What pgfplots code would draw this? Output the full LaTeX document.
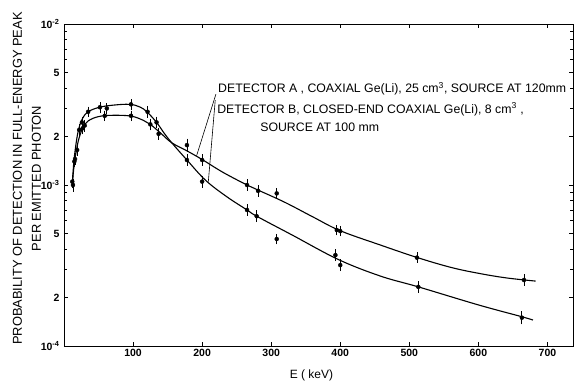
\documentclass[border=0pt]{standalone}
\usepackage{pgfplots}
\pgfplotsset{compat=1.18}
\usepackage{fontspec}
\setmainfont{Liberation Sans}
\begin{document}
\begin{tikzpicture}
\begin{axis}[
  scale only axis, width=509pt, height=322pt,
  xmin=0, xmax=737, ymode=log, ymin=1e-4, ymax=1e-2,
  axis line style={line width=0.9pt},
  tick style={line width=0.8pt, black},
  xtick={100,200,300,400,500,600,700},
  xticklabels={\textbf{100},\textbf{200},\textbf{300},\textbf{400},\textbf{500},\textbf{600},\textbf{700}},
  ytick={1e-4,2e-4,5e-4,1e-3,2e-3,5e-3,1e-2},
  yticklabels={\textbf{10}\textsuperscript{\textbf{-4}},\textbf{2},\textbf{5},\textbf{10}\textsuperscript{\textbf{-3}},\textbf{2},\textbf{5},\textbf{10}\textsuperscript{\textbf{-2}}},
  minor ytick={3e-4,4e-4,6e-4,7e-4,8e-4,9e-4,3e-3,4e-3,6e-3,7e-3,8e-3,9e-3},
  ticklabel style={font=\fontsize{10.5}{12}\selectfont},
  yticklabel style={xshift=-1pt},
  clip=false,
]
\coordinate (O) at (rel axis cs:0,0);
\coordinate (T) at (rel axis cs:1,1);
% curve A (25 cm3, source at 120 mm)
\addplot[black, line width=1.1pt, smooth, tension=0.6] coordinates {
 (12,1.0e-3) (14,1.25e-3) (17,1.55e-3) (21,1.9e-3) (27,2.25e-3) (35,2.5e-3)
 (50,2.66e-3) (70,2.71e-3) (97,2.68e-3) (115,2.52e-3) (125,2.38e-3) (140,2.1e-3)
 (156,1.83e-3) (178,1.63e-3) (200,1.44e-3) (230,1.2e-3) (265,1.0e-3) (281,9.3e-4)
 (320,7.8e-4) (360,6.35e-4) (400,5.2e-4) (458,4.24e-4) (511,3.55e-4) (560,3.08e-4)
 (600,2.83e-4) (640,2.65e-4) (683,2.53e-4)};
% curve B (8 cm3, source at 100 mm)
\addplot[black, line width=1.1pt, smooth, tension=0.6] coordinates {
 (12,1.0e-3) (14,1.35e-3) (17,1.75e-3) (21,2.2e-3) (27,2.6e-3) (35,2.85e-3)
 (50,3.03e-3) (70,3.13e-3) (95,3.17e-3) (110,3.05e-3) (120,2.85e-3) (134,2.45e-3)
 (145,2.1e-3) (156,1.83e-3) (178,1.43e-3) (205,1.07e-3) (235,8.5e-4) (265,7.0e-4)
 (279,6.4e-4) (330,4.9e-4) (397,3.45e-4) (458,2.72e-4) (513,2.33e-4) (600,1.8e-4)
 (663,1.52e-4) (679,1.45e-4)};
% measured points A
\addplot[black, only marks, mark=none, error bars/.cd, y dir=both, y explicit relative,
  error mark=-, error bar style={line width=0.8pt, black},
  error mark options={mark size=2.4pt, line width=0.8pt, black}]
 table[x=x, y=y, y error=e] {
 x y e
 13 1.0e-3 0.06
 15 1.4e-3 0.05
 19 1.65e-3 0.05
 27 2.25e-3 0.05
 30 2.34e-3 0.05
 59 2.69e-3 0.04
 97 2.69e-3 0.04
 125 2.38e-3 0.05
 137 2.08e-3 0.05
 178 1.77e-3 0.06
 200 1.43e-3 0.05
 265 1.0e-3 0.05
 281 9.2e-4 0.05
 308 8.87e-4 0.04
 395 5.25e-4 0.04
 400 5.17e-4 0.04
 511 3.54e-4 0.04
 666 2.57e-4 0.05
 };
% measured points B
\addplot[black, only marks, mark=none, error bars/.cd, y dir=both, y explicit relative,
  error mark=-, error bar style={line width=0.8pt, black},
  error mark options={mark size=2.4pt, line width=0.8pt, black}]
 table[x=x, y=y, y error=e] {
 x y e
 12 1.05e-3 0.06
 16 1.45e-3 0.05
 22 2.2e-3 0.05
 26 2.45e-3 0.05
 35 2.85e-3 0.04
 52 3.04e-3 0.04
 62 2.99e-3 0.04
 97 3.17e-3 0.04
 121 2.85e-3 0.05
 134 2.45e-3 0.05
 178 1.43e-3 0.05
 200 1.05e-3 0.05
 265 7.0e-4 0.05
 279 6.4e-4 0.05
 308 4.62e-4 0.04
 393 3.67e-4 0.05
 400 3.18e-4 0.05
 513 2.33e-4 0.05
 663 1.5e-4 0.06
 };
% annotation
\draw[line width=0.6pt] (axis cs:220,3.67e-3) -- (axis cs:192,1.52e-3);
\draw[line width=0.6pt] (axis cs:219,3.37e-3) -- (axis cs:209,1.05e-3);
\node[anchor=base west, inner sep=0pt, font=\fontsize{12.3}{14}\selectfont] at (axis cs:223,3.73e-3)
  {DETECTOR A , COAXIAL Ge(Li), 25 cm\textsuperscript{3}, SOURCE AT 120mm};
\node[anchor=base west, inner sep=0pt, font=\fontsize{12.3}{14}\selectfont] at (axis cs:221.7,2.80e-3)
  {DETECTOR B, CLOSED-END COAXIAL Ge(Li), 8 cm\textsuperscript{3} ,};
\node[anchor=base west, inner sep=0pt, font=\fontsize{12.3}{14}\selectfont] at (axis cs:284,2.165e-3)
  {SOURCE AT 100 mm};
\node[rotate=90, font=\fontsize{12.9}{19}\selectfont, align=center] at ([xshift=-37pt]rel axis cs:0,0.52)
  {PROBABILITY OF DETECTION IN FULL-ENERGY PEAK\\PER EMITTED PHOTON};
\node[font=\fontsize{12}{14}\selectfont] at ([xshift=-7pt,yshift=-29pt]rel axis cs:0.5,0) {E ( keV)};
\end{axis}
\pgfresetboundingbox
\path[use as bounding box] ([xshift=-64pt,yshift=-38pt]O) rectangle ([xshift=2pt,yshift=24pt]T);
\end{tikzpicture}
\end{document}
